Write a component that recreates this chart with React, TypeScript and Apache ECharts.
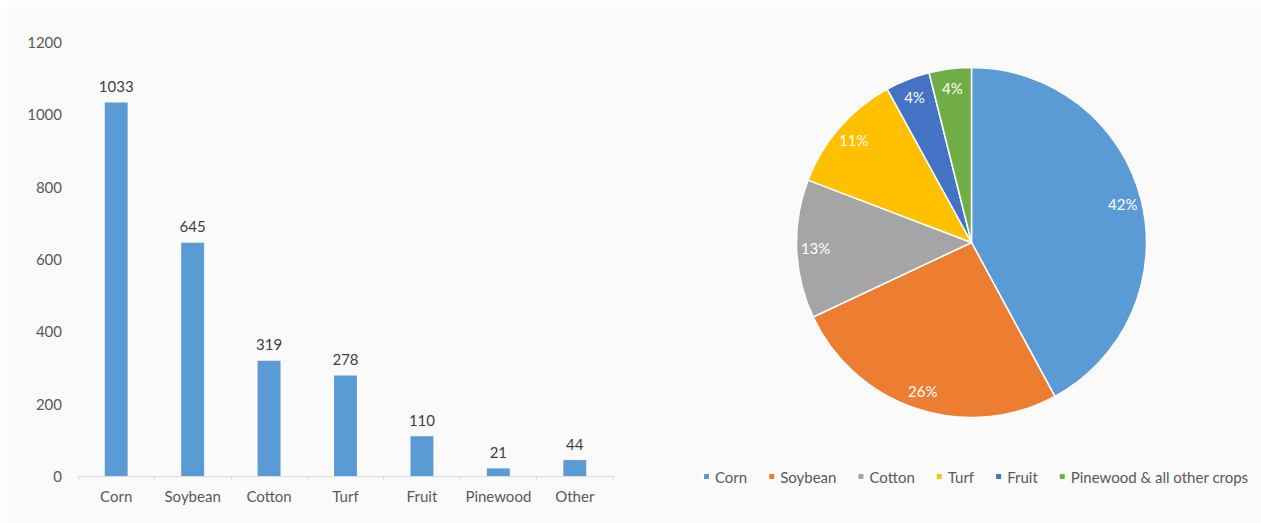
import React, { useEffect, useRef } from "react";
import * as echarts from "echarts";

const categories = ["Corn", "Soybean", "Cotton", "Turf", "Fruit", "Pinewood", "Other"];
const counts = [1033, 645, 319, 278, 110, 21, 44];

const pieNames = ["Corn", "Soybean", "Cotton", "Turf", "Fruit", "Pinewood & all other crops"];
const pieShares = [42.1, 25.9, 12.8, 11.2, 4.1, 3.9];
const pieColors = ["#5B9BD5", "#ED7D31", "#A5A5A5", "#FFC000", "#4472C4", "#70AD47"];

const FONT = "Lato, 'Open Sans', sans-serif";
const FS = 15;

export default function App() {
  const ref = useRef<HTMLDivElement>(null);
  useEffect(() => {
    if (!ref.current) return;
    const chart = echarts.init(ref.current, null, { renderer: "svg" });
    const pieData = pieNames.map((n, i) => ({
      name: n,
      value: pieShares[i],
      itemStyle: { color: pieColors[i] },
    }));
    chart.setOption({
      animation: false,
      textStyle: { fontFamily: FONT },
      graphic: [
        {
          type: "rect",
          z: -10,
          shape: { x: 7, y: 7, width: 1254, height: 516 },
          style: { fill: "#fafafa" },
          silent: true,
        },
      ],
      grid: { left: 78, right: 648, top: 42, bottom: 47, containLabel: false },
      xAxis: {
        type: "category",
        data: categories,
        axisLine: { lineStyle: { color: "#d9d9d9", width: 1 } },
        axisTick: { show: true, length: 5, lineStyle: { color: "#d9d9d9" } },
        axisLabel: { color: "#595959", fontSize: FS, margin: 12, interval: 0, fontFamily: FONT },
      },
      yAxis: {
        type: "value",
        min: 0,
        max: 1200,
        interval: 200,
        axisLine: { show: false },
        axisTick: { show: false },
        splitLine: { show: false },
        axisLabel: {
          color: "#595959",
          fontSize: FS,
          margin: 16,
          fontFamily: FONT,
          formatter: (v: number) => String(v),
        },
      },
      legend: {
        data: pieNames,
        left: 697,
        top: 464,
        icon: "rect",
        itemWidth: 7,
        itemHeight: 7,
        itemGap: 20,
        textStyle: { color: "#595959", fontSize: FS, fontFamily: FONT },
      },
      series: [
        {
          name: "Count",
          type: "bar",
          data: counts,
          barWidth: "30%",
          itemStyle: { color: "#5B9BD5" },
          label: {
            show: true,
            position: "top",
            distance: 9,
            color: "#404040",
            fontSize: FS,
            fontFamily: FONT,
          },
        },
        {
          name: "Share",
          type: "pie",
          center: [971.5, 242.5],
          radius: [0, 175],
          startAngle: 90,
          clockwise: true,
          data: pieData,
          itemStyle: { borderColor: "#ffffff", borderWidth: 1.5 },
          label: { show: false },
          labelLine: { show: false },
          emphasis: { disabled: true },
        },
        {
          name: "ShareLabels",
          type: "pie",
          center: [971.5, 242.5],
          radius: [131, 175],
          startAngle: 90,
          clockwise: true,
          silent: true,
          z: 5,
          data: pieNames.map((n, i) => ({ name: n, value: pieShares[i] })),
          itemStyle: { color: "rgba(0,0,0,0)", borderWidth: 0 },
          label: {
            show: true,
            position: "inside",
            color: "#ffffff",
            fontSize: FS,
            fontFamily: FONT,
            formatter: (p: any) => Math.round(p.percent) + "%",
          },
          labelLine: { show: false },
          emphasis: { disabled: true },
        },
      ],
    });
    return () => chart.dispose();
  }, []);
  return (
    <div
      ref={ref}
      style={{ position: "absolute", left: 0, top: 0, width: 1261, height: 523, background: "#ffffff" }}
    />
  );
}
